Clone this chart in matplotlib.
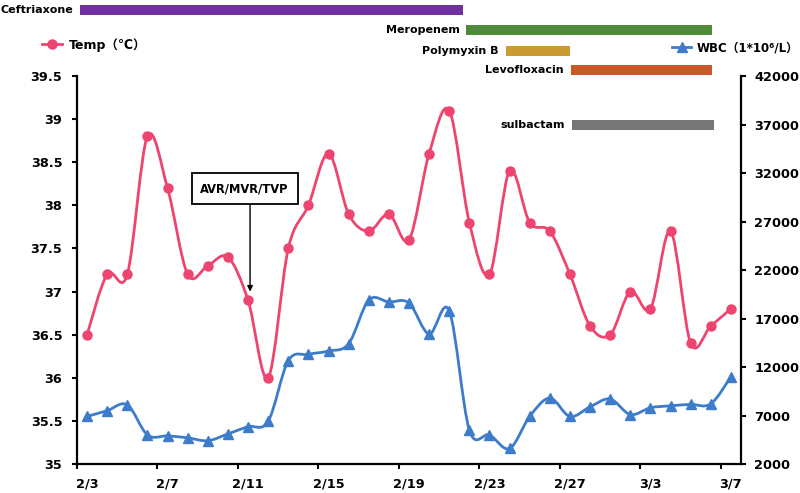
import numpy as np
import matplotlib.pyplot as plt
from matplotlib.path import Path
from matplotlib.patches import PathPatch, Rectangle
from matplotlib.lines import Line2D
from matplotlib.transforms import blended_transform_factory

# Data
dates = ['2/3', '2/4', '2/5', '2/6', '2/7', '2/8', '2/9', '2/10', '2/11', '2/12',
         '2/13', '2/14', '2/15', '2/16', '2/17', '2/18', '2/19', '2/20', '2/21',
         '2/22', '2/23', '2/24', '2/25', '2/26', '2/27', '2/28', '3/1', '3/2',
         '3/3', '3/4', '3/5', '3/6', '3/7']
temp = [36.5, 37.2, 37.2, 38.8, 38.2, 37.2, 37.3, 37.4, 36.9, 36.0,
        37.5, 38.0, 38.6, 37.9, 37.7, 37.9, 37.6, 38.6, 39.1,
        37.8, 37.2, 38.4, 37.8, 37.7, 37.2, 36.6, 36.5, 37.0,
        36.8, 37.7, 36.4, 36.6, 36.8]
wbc = [6900, 7500, 8100, 5000, 4900, 4700, 4400, 5100, 5850, 6400,
       12650, 13300, 13650, 14400, 18900, 18700, 18600, 15400, 17800,
       5500, 5000, 3600, 6900, 8800, 6900, 7900, 8700, 7100,
       7800, 8000, 8150, 8200, 11000]

# drug courses (start, end in day index)
drugs = ['Ceftriaxone', 'Meropenem', 'Polymyxin B', 'Levofloxacin', 'sulbactam']
drug_start = [-0.35, 18.85, 20.8, 24.05, 24.1]
drug_end = [18.7, 31.05, 24.0, 31.05, 31.15]
drug_colors = ['#7030A0', '#4E8A3A', '#C99B32', '#C85A2A', '#767676']
drug_rows = [1.157, 1.106, 1.052, 1.003, 0.861]  # bottom of bar, axes fraction
bar_h = 0.026

label_every = 4
temp_color = '#EE4570'
wbc_color = '#3D7CCB'


def smooth_path(xs, ys):
    # excel-like smoothed line through the points
    n = len(xs)
    verts = [(xs[0], ys[0])]
    codes = [Path.MOVETO]
    for i in range(n - 1):
        a = i - 1 if i > 0 else i
        d = i + 2 if i + 2 < n else i + 1
        c1 = (xs[i] + (xs[i + 1] - xs[a]) / 6, ys[i] + (ys[i + 1] - ys[a]) / 6)
        c2 = (xs[i + 1] - (xs[d] - xs[i]) / 6, ys[i + 1] - (ys[d] - ys[i]) / 6)
        verts += [c1, c2, (xs[i + 1], ys[i + 1])]
        codes += [Path.CURVE4] * 3
    return Path(verts, codes)


plt.rcParams['font.family'] = ['DejaVu Sans', 'Noto Sans CJK SC']
plt.rcParams['font.weight'] = 'bold'

fig = plt.figure(figsize=(8, 4.93), dpi=100)
ax = fig.add_axes([0.09625, 0.0588, 0.83, 0.787])
ax2 = ax.twinx()

x = np.arange(len(dates), dtype=float)

# Temp line
ax.add_patch(PathPatch(smooth_path(x, np.array(temp)), fill=False,
                       edgecolor=temp_color, lw=2.0, zorder=3))
ax.plot(x, temp, 'o', color=temp_color, ms=6.5, zorder=4)

# WBC line
ax2.add_patch(PathPatch(smooth_path(x, np.array(wbc, float)), fill=False,
                        edgecolor=wbc_color, lw=2.0, zorder=3))
ax2.plot(x, wbc, '^', color=wbc_color, ms=6.5, zorder=4)

ax.set_xlim(-0.5, len(dates) - 0.5)
ax.set_ylim(35, 39.5)
ax2.set_ylim(2000, 42000)

yt = np.arange(35, 39.51, 0.5)
ax.set_yticks(yt)
ax.set_yticklabels([('%g' % v) for v in yt])
ax2.set_yticks(np.arange(2000, 42001, 5000))

# ticks between categories, labels on the points
lab_idx = list(range(0, len(dates), label_every))
ax.set_xticks([i - 0.5 for i in lab_idx])
ax.set_xticklabels([])
ax.set_xticks(lab_idx, minor=True)
ax.set_xticklabels([dates[i] for i in lab_idx], minor=True)
ax.tick_params(axis='x', which='minor', length=0, pad=10, labelsize=9.3)
ax.tick_params(axis='x', which='major', length=3.5, width=1.5, direction='out')
ax.tick_params(axis='y', length=3.5, width=1.5, pad=7, labelsize=9.3)
ax2.tick_params(axis='y', length=3.5, width=1.5, pad=6, labelsize=9.3)

for a in (ax, ax2):
    a.spines['top'].set_visible(False)
    for s in ('left', 'right', 'bottom'):
        a.spines[s].set_linewidth(1.6)
ax.spines['right'].set_visible(False)
ax2.spines['left'].set_visible(False)
ax2.spines['bottom'].set_visible(False)

# drug bars
tr = blended_transform_factory(ax.transData, ax.transAxes)
for name, s, e, c, r in zip(drugs, drug_start, drug_end, drug_colors, drug_rows):
    ax2.add_patch(Rectangle((s, r), e - s, bar_h, transform=tr, facecolor=c,
                            edgecolor='none', clip_on=False, zorder=5))
    ax2.annotate(name, xy=(s, r + bar_h / 2), xycoords=tr, xytext=(-5, 0),
                 textcoords='offset points', ha='right', va='center',
                 fontsize=8, fontweight='bold', annotation_clip=False)

# surgery annotation
ax2.text(7.83, 38.195, 'AVR/MVR/TVP', transform=ax.transData, ha='center',
         va='center', fontsize=8.3, fontweight='bold', zorder=6,
         bbox=dict(boxstyle='square,pad=0.75', facecolor='white',
                   edgecolor='black', lw=1.3))
ax.annotate('', xy=(8.1, 37.0), xytext=(8.1, 38.03),
            arrowprops=dict(arrowstyle='-|>', color='black', lw=1.0,
                            mutation_scale=8, shrinkA=0, shrinkB=0))

# legends
h1 = Line2D([], [], color=temp_color, marker='o', lw=2.0, ms=6.5)
h2 = Line2D([], [], color=wbc_color, marker='^', lw=2.0, ms=6.5)
fig.legend([h1], ['Temp（℃）'], loc='center left', bbox_to_anchor=(0.045, 0.909),
           frameon=False, handlelength=1.6, handletextpad=0.5, borderpad=0,
           prop={'size': 9, 'weight': 'bold'})
fig.legend([h2], ['WBC（1*10⁶/L）'], loc='center left', bbox_to_anchor=(0.833, 0.903),
           frameon=False, handlelength=1.6, handletextpad=0.5, borderpad=0,
           prop={'size': 8.5, 'weight': 'bold'})

fig.savefig('out.png', dpi=100)
